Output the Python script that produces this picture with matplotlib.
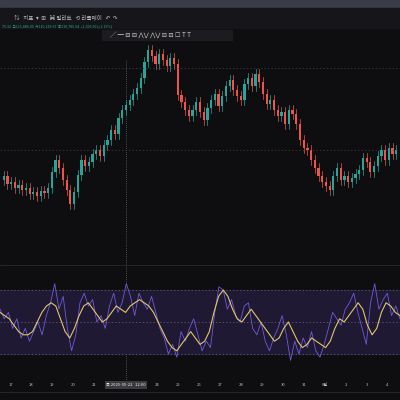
import numpy as np
import matplotlib.pyplot as plt
from matplotlib.patches import Rectangle

plt.rcParams['font.family'] = ['Noto Sans CJK KR', 'DejaVu Sans', 'DejaVu Sans Mono']

# closing prices (chart units)
closes = [120, 124, 116, 118, 112, 115, 110, 112, 106, 108, 104, 109, 107, 112, 128, 140,
          132, 120, 110, 96, 108, 125, 140, 134, 138, 146, 150, 144, 155, 160, 170, 166,
          182, 190, 195, 200, 206, 212, 222, 238, 250, 244, 236, 246, 240, 234, 242, 236,
          205, 198, 190, 184, 190, 198, 188, 180, 192, 200, 206, 194, 204, 214, 220, 210,
          204, 200, 216, 222, 214, 226, 218, 206, 196, 200, 190, 184, 188, 176, 190, 186,
          176, 160, 152, 150, 140, 132, 124, 118, 114, 110, 124, 132, 120, 124, 118, 122,
          126, 130, 142, 138, 128, 134, 144, 150, 140, 152, 146, 150]
osc = [0.4, 0.1, 0.3, -0.2, 0.1, -0.5, -0.2, -0.6, -0.3, 0.0, -0.4, 0.2, 0.6, 1.2, 0.4, 0.8,
       -0.2, -0.9, -0.4, 0.6, 0.9, 0.5, 0.7, 0.0, 0.2, -0.2, 0.5, 0.9, 0.3, 0.6, 1.2, 0.8,
       0.2, 0.9, 0.6, 0.4, 0.8, 0.3, -0.2, -0.5, -1.0, -0.7, -1.1, -0.3, -0.6, -0.2, 0.1, -0.4,
       -0.9, -0.6, -0.8, 0.3, 1.1, 1.0, 0.4, 0.7, 0.2, 0.0, 0.5, 0.6, -0.2, -0.4, 0.0, -0.6,
       -0.9, -0.5, -0.2, 0.2, -0.4, -1.2, -0.6, -1.0, -0.5, -0.8, -0.3, -0.9, -1.1, -0.7, -0.2, 0.3,
       0.1, -0.1, 0.4, 0.6, 0.9, 0.3, -0.2, -0.7, 0.6, 1.2, 0.4, 0.7, 0.9, 0.2, 0.5, 0.1]
signal = [0.3, 0.2, 0.1, -0.1, -0.3, -0.4, -0.4, -0.3, 0.0, 0.3, 0.5, 0.6, 0.5, 0.1, -0.3, -0.5,
          -0.2, 0.2, 0.5, 0.6, 0.4, 0.2, 0.0, 0.1, 0.3, 0.5, 0.4, 0.3, 0.5, 0.6, 0.7, 0.6,
          0.5, 0.3, 0.0, -0.3, -0.6, -0.8, -0.9, -0.7, -0.5, -0.3, -0.5, -0.7, -0.6, -0.3, 0.3, 0.8,
          1.0, 0.8, 0.4, 0.1, 0.0, 0.2, 0.4, 0.2, 0.0, -0.2, -0.4, -0.6, -0.5, -0.2, 0.0, -0.3,
          -0.6, -0.8, -0.7, -0.5, -0.6, -0.7, -0.8, -0.6, -0.2, 0.1, 0.0, 0.2, 0.4, 0.6, 0.4, -0.1,
          -0.4, -0.2, 0.3, 0.6, 0.5, 0.3, 0.2]
day_labels = ['17', '18', '19', '20', '21', '24', '25', '26', '27', '28', '29', '30', '31', '6월', '2', '3', '4']
day_px = [11, 31, 52, 73, 94, 157, 178, 199, 220, 241, 262, 283, 304, 325, 346, 367, 387]

bg = '#0e0e10'
fig = plt.figure(figsize=(4, 4), dpi=100, facecolor=bg)

# top bars
top = fig.add_axes([0, 0, 1, 1], facecolor='none')
top.set_xlim(0, 400); top.set_ylim(400, 0); top.axis('off')
top.add_patch(Rectangle((0, 0), 400, 8, color='#3a3d48'))
top.add_patch(Rectangle((0, 8), 400, 20, color='#16161a'))
top.text(14, 18, '⇅   지표  ▾  ⊞   ⌘ 알리트   ⟲ 리플레이   ↶  ↷', color='#bbbbbb', fontsize=4, va='center')
top.text(2, 26, '75.32  고111,886.00  저110,129.67  종110,785.64  +1,306.50 (+1.19%)', color='#1fae7a', fontsize=2.6, va='center')
top.add_patch(Rectangle((102, 30), 130, 10, color='#1c1c20'))
top.text(110, 35, '╱ ─ ⊟ ⊟ ⋀⋁ ⋀⋁ ⊟ ⊟ ☐ T T', color='#cccccc', fontsize=4.5, va='center')

# main price panel
n = len(closes)
ax = fig.add_axes([0, 1 - 265 / 400, 1, (265 - 42) / 400], facecolor='none')
for i in range(1, n):
    o, c = closes[i - 1], closes[i]
    col = '#26a69a' if c >= o else '#ef5350'
    ax.plot([i, i], [min(o, c) - 5, max(o, c) + 5], color=col, lw=0.5)
    ax.add_patch(Rectangle((i - 0.3, min(o, c)), 0.6, max(abs(c - o), 0.8), color=col, lw=0))
ax.set_xlim(0, n)
ax.set_ylim(35, 258)
for y in [232, 150]:
    ax.axhline(y, color='#444', lw=0.5, ls=(0, (2, 3)))
ax.axis('off')

# oscillator panel: y=+1 at 290px, y=-1 at 354px
ox = fig.add_axes([0, 1 - 370 / 400, 1, 96 / 400], facecolor='none')
ox.axhspan(-1, 1, color='#1f1933')
for y in [-1, 0, 1]:
    ox.axhline(y, color='#6b6680', lw=0.5, ls=(0, (2, 3)))
ox.plot(np.arange(len(osc)), osc, color='#6f5bd6', lw=0.6)
ox.plot(np.linspace(0, len(osc) - 1, len(signal)), signal, color='#e2c56d', lw=0.8)
ox.set_xlim(0, len(osc) - 1)
ox.set_ylim(-1.5, 1.5)
ox.axis('off')

# crosshair and dates
top.plot([126, 126], [60, 380], color='#888', lw=0.5, ls=(0, (1, 2)))
top.plot([0, 400], [265, 265], color='#2a2a2e', lw=0.6)
for lab, x in zip(day_labels, day_px):
    top.text(x, 385, lab, color='#bbbbbb', fontsize=3, ha='center', va='center')
top.text(126, 385, '목 2025-05-22   12:00', color='#eeeeee', fontsize=3, ha='center', va='center',
         bbox=dict(boxstyle='square,pad=0.4', fc='#3b3b40', ec='none'))
top.plot([0, 400], [392, 392], color='#2a2a2e', lw=0.6)

fig.savefig('out.png', dpi=100, facecolor=bg)
